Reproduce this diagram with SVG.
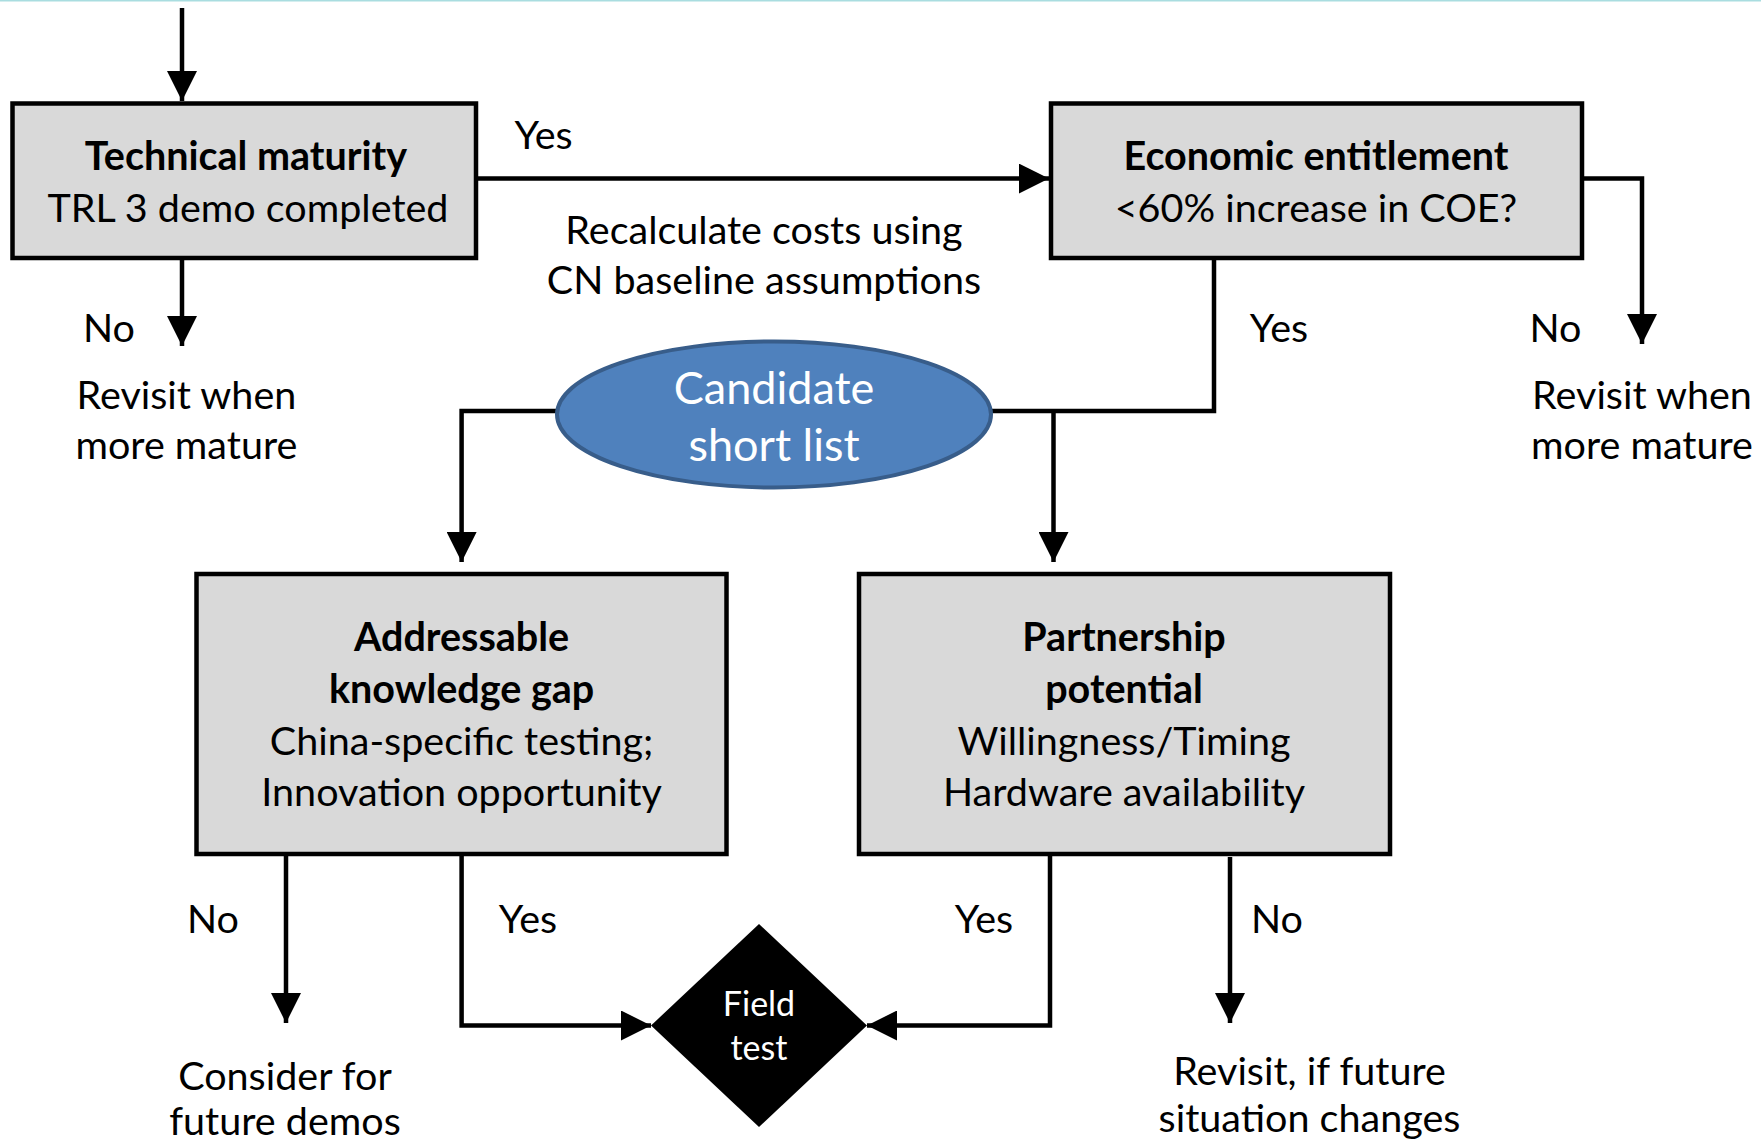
<svg xmlns="http://www.w3.org/2000/svg" width="1761" height="1143" viewBox="0 0 1761 1143">
  <style>
    text { font-family: Lato, "Open Sans", "Liberation Sans", sans-serif; font-size: 39.5px; fill: #000; text-anchor: middle; }
    .b { font-weight: bold; }
    .w { fill: #fff; }
    .big { font-size: 45px; }
    .sm { font-size: 34px; }
    .box { fill: #d9d9d9; stroke: #000; stroke-width: 4.5; }
    .wire { fill: none; stroke: #000; stroke-width: 4.5; }
  </style>
  <defs>
    <marker id="arrow" markerUnits="userSpaceOnUse" markerWidth="30" markerHeight="30" viewBox="0 0 28 28" refX="28" refY="14" orient="auto">
      <path d="M0,0 L28,14 L0,28 Z" fill="#000"/>
    </marker>
  </defs>
  <rect width="1761" height="1143" fill="#fff"/>
  <line x1="0" y1="0.5" x2="1761" y2="0.5" stroke="#a9dde0" stroke-width="2"/>

  <!-- connectors -->
  <g id="connectors">
    <path class="wire" d="M182 8 V101" marker-end="url(#arrow)"/>
    <path class="wire" d="M476 178.6 H1049" marker-end="url(#arrow)"/>
    <path class="wire" d="M182 258 V346" marker-end="url(#arrow)"/>
    <path class="wire" d="M1582 178.6 H1642 V344" marker-end="url(#arrow)"/>
    <path class="wire" d="M1214 258 V411 H991"/>
    <path class="wire" d="M1053.5 411 V562" marker-end="url(#arrow)"/>
    <path class="wire" d="M557 411 H461.6 V562" marker-end="url(#arrow)"/>
    <path class="wire" d="M286 854 V1023" marker-end="url(#arrow)"/>
    <path class="wire" d="M461.6 854 V1025.5 H651" marker-end="url(#arrow)"/>
    <path class="wire" d="M1050 854 V1025.5 H867" marker-end="url(#arrow)"/>
    <path class="wire" d="M1230 857 V1023" marker-end="url(#arrow)"/>
  </g>

  <!-- connector labels -->
  <g id="labels">
    <text x="543.6" y="149">Yes</text>
    <text x="764" y="244">Recalculate costs using</text>
    <text x="764" y="294">CN baseline assumptions</text>
    <text x="109" y="342">No</text>
    <text x="186.4" y="409">Revisit when</text>
    <text x="186.4" y="459">more mature</text>
    <text x="1279" y="342">Yes</text>
    <text x="1555.5" y="342">No</text>
    <text x="1642" y="409">Revisit when</text>
    <text x="1642" y="459">more mature</text>
    <text x="213" y="933">No</text>
    <text x="528" y="933">Yes</text>
    <text x="984" y="933">Yes</text>
    <text x="1277" y="933">No</text>
    <text x="285" y="1090">Consider for</text>
    <text x="285" y="1135">future demos</text>
    <text x="1309.5" y="1085">Revisit, if future</text>
    <text x="1309.5" y="1132">situation changes</text>
  </g>

  <g id="technical-maturity">
    <rect class="box" x="12.5" y="103.5" width="463.5" height="154.5"/>
    <text class="b" x="246" y="170">Technical maturity</text>
    <text x="248" y="222">TRL 3 demo completed</text>
  </g>

  <g id="economic-entitlement">
    <rect class="box" x="1051" y="103.5" width="531" height="154.5"/>
    <text class="b" x="1316" y="170">Economic entitlement</text>
    <text x="1316" y="222">&lt;60% increase in COE?</text>
  </g>

  <g id="candidate-short-list">
    <ellipse cx="774" cy="414.5" rx="217" ry="73" fill="#4f81bd" stroke="#385d8a" stroke-width="4"/>
    <text class="w big" x="774" y="404">Candidate</text>
    <text class="w big" x="774" y="460.5">short list</text>
  </g>

  <g id="knowledge-gap">
    <rect class="box" x="196.5" y="574" width="530" height="280"/>
    <text class="b" x="461.6" y="651">Addressable</text>
    <text class="b" x="461.6" y="703">knowledge gap</text>
    <text x="461.6" y="755">China-specific testing;</text>
    <text x="461.6" y="806">Innovation opportunity</text>
  </g>

  <g id="partnership-potential">
    <rect class="box" x="859" y="574" width="531" height="280"/>
    <text class="b" x="1124" y="651">Partnership</text>
    <text class="b" x="1124" y="703">potential</text>
    <text x="1124" y="755">Willingness/Timing</text>
    <text x="1124" y="806">Hardware availability</text>
  </g>

  <g id="field-test">
    <polygon points="759,924 867,1025.5 759,1127 651,1025.5" fill="#000"/>
    <text class="w sm" x="759" y="1016">Field</text>
    <text class="w sm" x="759" y="1060">test</text>
  </g>
</svg>
